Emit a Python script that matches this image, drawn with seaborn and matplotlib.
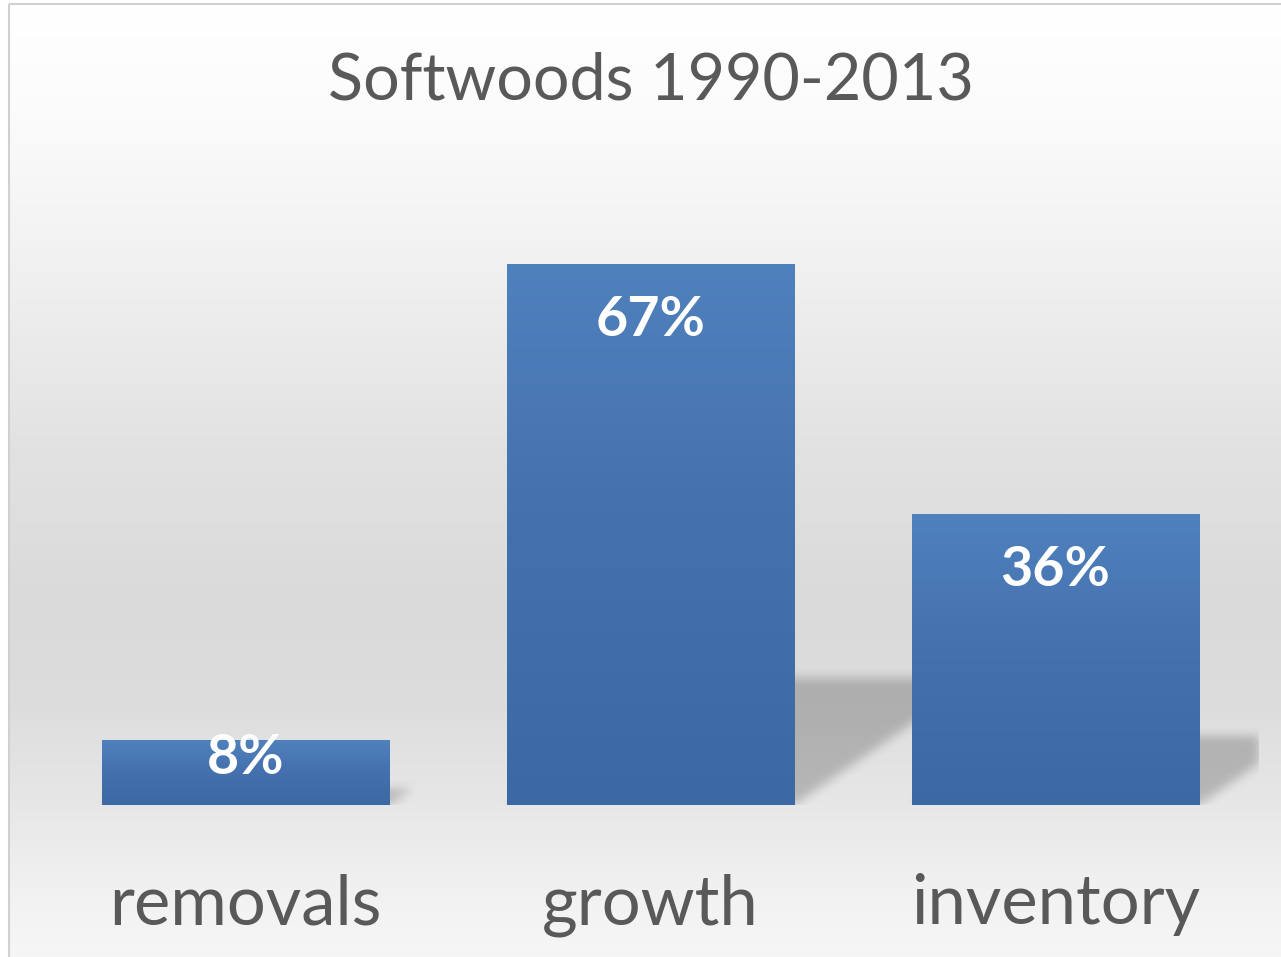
import numpy as np
import matplotlib
matplotlib.use("Agg")
import matplotlib.pyplot as plt
import seaborn as sns
from matplotlib.patches import Rectangle
from matplotlib.colors import LinearSegmentedColormap

# ---- data ----
categories = ["removals", "growth", "inventory"]
values = [8, 67, 36]
value_labels = ["8%", "67%", "36%"]
title = "Softwoods 1990-2013"

# ---- canvas ----
W, H, DPI = 1281, 957, 100
sns.set_theme(style="white")
plt.rcParams["font.family"] = ["Lato", "DejaVu Sans"]
TEXT_GREY = "#595959"

fig = plt.figure(figsize=(W / DPI, H / DPI), dpi=DPI)
fig.patch.set_facecolor("white")

# chart area background: soft vertical grey gradient with a thin frame
bg = fig.add_axes([0, 0, 1, 1], zorder=0)
bg.set_xlim(0, W)
bg.set_ylim(H, 0)
bg.axis("off")
stop_y = [4, 110, 260, 450, 600, 700, 800, 900, 957]
stop_v = [1.0, 0.985, 0.945, 0.885, 0.855, 0.865, 0.905, 0.95, 0.965]
shade = np.interp(np.arange(H), stop_y, stop_v)
bg_img = np.dstack([np.repeat(shade[:, None], 2, axis=1)] * 3)
bg.imshow(bg_img, extent=(9, W, H, 4), aspect="auto", interpolation="bilinear")
bg.add_patch(Rectangle((9, 4), W, H, fill=False, edgecolor="#d0d0d0", lw=1.5))
bg.set_xlim(0, W)
bg.set_ylim(H, 0)

# ---- plot axes ----
PX_X = 405.0          # pixels per category slot
PX_Y = 8.08           # pixels per percentage point
YMAX = 80
base_px = 805
ax = fig.add_axes([43 / W, (H - base_px) / H, 3 * PX_X / W, YMAX * PX_Y / H], zorder=1)
ax.patch.set_alpha(0)

sns.barplot(x=categories, y=values, color="#4f81bd", saturation=1, width=0.709,
            ax=ax, zorder=3, linewidth=0)

ax.set_xlim(-0.5, 2.5)
ax.set_ylim(0, YMAX)

# blue gradient inside each bar
bar_cmap = LinearSegmentedColormap.from_list("barblue", ["#3c69a3", "#4470ad", "#4f81bd"])
ramp = np.linspace(0, 1, 256)[:, None]
bars = list(ax.patches)
for p in bars:
    x0, w, h = p.get_x(), p.get_width(), p.get_height()
    im = ax.imshow(ramp, extent=(x0, x0 + w, 0, h), origin="lower", aspect="auto",
                   cmap=bar_cmap, zorder=4, interpolation="bilinear")
    im.set_clip_path(p)

# soft perspective shadow cast to the right of each bar
nx, ny = int(3 * PX_X), int(YMAX * PX_Y)
gx = np.linspace(-0.5, 2.5, nx)
gy = np.linspace(0, YMAX, ny)
GX, GY = np.meshgrid(gx, gy)
mask = np.zeros_like(GX)
for p in bars:
    left, right, h = p.get_x(), p.get_x() + p.get_width(), p.get_height()
    hs = 0.235 * h
    dx = 0.34 * h * PX_Y / PX_X
    t = GY / hs
    inside = (GY <= hs) & (GX >= left + dx * t) & (GX <= right + dx * t)
    mask[inside] = 1.0

def blur(a, sigma):
    r = int(3 * sigma)
    k = np.exp(-0.5 * (np.arange(-r, r + 1) / sigma) ** 2)
    k /= k.sum()
    a = np.apply_along_axis(lambda v: np.convolve(v, k, mode="same"), 0, a)
    a = np.apply_along_axis(lambda v: np.convolve(v, k, mode="same"), 1, a)
    return a

mask = blur(mask, 5)
shadow = np.zeros((ny, nx, 4))
shadow[..., 3] = 0.21 * mask
ax.imshow(shadow, extent=(-0.5, 2.5, 0, YMAX), origin="lower", aspect="auto",
          zorder=2, interpolation="bilinear")

ax.set_xlim(-0.5, 2.5)
ax.set_ylim(0, YMAX)

# value labels inside the bars
for p, v, lab in zip(bars, values, value_labels):
    drop = 52 if v * PX_Y > 100 else 24
    ax.annotate(lab, xy=(p.get_x() + p.get_width() / 2, v), xytext=(0, -drop),
                textcoords="offset points", ha="center", va="baseline",
                color="white", fontsize=40, fontweight="bold", zorder=6)

# axes styling
for s in ax.spines.values():
    s.set_visible(False)
ax.set_yticks([])
ax.set_xlabel("")
ax.set_ylabel("")
ax.tick_params(axis="x", length=0, pad=49, labelsize=49.5, labelcolor=TEXT_GREY)

fig.text(651 / W, 1 - 100 / H, title, ha="center", va="baseline",
         fontsize=46.5, color=TEXT_GREY)

fig.savefig("out.png", dpi=DPI)
